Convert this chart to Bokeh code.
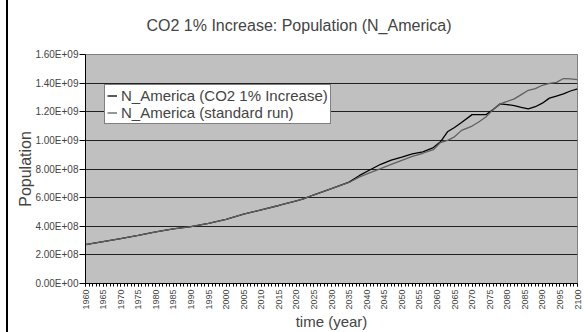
from bokeh.plotting import figure
from bokeh.models import (FixedTicker, CustomJSTickFormatter, Legend, LegendItem,
                          Range1d, Title)
from bokeh.embed import file_html
from bokeh.resources import INLINE
import math

years = [1960, 1965, 1970, 1975, 1980, 1985, 1990, 1995, 2000, 2005, 2010, 2015,
         2020, 2022, 2025, 2030, 2035, 2038, 2041, 2044, 2047, 2050, 2053, 2056,
         2059, 2061, 2063, 2065, 2067, 2070, 2072, 2074, 2076, 2078, 2080, 2082,
         2084, 2086, 2088, 2090, 2092, 2094, 2096, 2098, 2100]

co2_increase = [2.71e8, 2.92e8, 3.13e8, 3.36e8, 3.60e8, 3.82e8, 3.97e8, 4.20e8, 4.48e8,
                4.85e8, 5.15e8, 5.45e8, 5.78e8, 5.91e8, 6.20e8, 6.63e8, 7.08e8, 7.55e8,
                7.95e8, 8.33e8, 8.62e8, 8.83e8, 9.05e8, 9.20e8, 9.50e8, 9.90e8, 1.06e9,
                1.09e9, 1.125e9, 1.18e9, 1.18e9, 1.18e9, 1.215e9, 1.255e9, 1.25e9,
                1.243e9, 1.23e9, 1.22e9, 1.235e9, 1.26e9, 1.295e9, 1.31e9, 1.325e9,
                1.345e9, 1.36e9]

standard_run = [2.71e8, 2.92e8, 3.13e8, 3.36e8, 3.60e8, 3.82e8, 3.97e8, 4.20e8, 4.48e8,
                4.85e8, 5.15e8, 5.45e8, 5.78e8, 5.91e8, 6.20e8, 6.63e8, 7.06e8, 7.45e8,
                7.75e8, 8.03e8, 8.32e8, 8.60e8, 8.88e8, 9.10e8, 9.35e8, 9.85e8, 1.00e9,
                1.025e9, 1.07e9, 1.10e9, 1.13e9, 1.165e9, 1.215e9, 1.255e9, 1.272e9,
                1.29e9, 1.32e9, 1.35e9, 1.362e9, 1.385e9, 1.398e9, 1.405e9, 1.432e9,
                1.43e9, 1.424e9]

y_ticks = [0, 2e8, 4e8, 6e8, 8e8, 1.0e9, 1.2e9, 1.4e9, 1.6e9]
x_ticks = list(range(1960, 2101, 5))
x_minor = list(range(1960, 2101, 1))

FONT = "Liberation Sans"

p = figure(width=587, height=332, output_backend="svg", toolbar_location=None,
           x_range=Range1d(1960, 2100), y_range=Range1d(0, 1.6e9),
           min_border_left=85, min_border_right=10, min_border_top=54,
           min_border_bottom=48)

p.background_fill_color = "#c0c0c0"
p.border_fill_alpha = 0
p.styles = {"background": "linear-gradient(to right, white 0px, white 6px, black 6px, black 8px, white 8px)"}
p.outline_line_color = "#808080"
p.outline_line_width = 1

p.title.text = "CO2 1% Increase: Population (N_America)"
p.title.text_font = FONT
p.title.text_font_size = "16px"
p.title.text_font_style = "normal"
p.title.align = "left"
p.title.offset = 61
p.title.standoff = 4

# spacer between title and plot area
spacer = Title(text=" ", text_font_size="1px", standoff=16)
p.add_layout(spacer, "above")

# grid
p.xgrid.visible = False
p.ygrid.ticker = FixedTicker(ticks=y_ticks[1:-1])
p.ygrid.grid_line_color = "#202020"
p.ygrid.grid_line_width = 1

# y axis
p.yaxis.ticker = FixedTicker(ticks=y_ticks)
p.yaxis.formatter = CustomJSTickFormatter(code="""
    var s = tick.toExponential(2).toUpperCase();
    return s.replace(/E([+-])(\\d)$/, 'E$10$2');
""")
p.yaxis.major_label_text_font = FONT
p.yaxis.major_label_text_font_size = "10px"
p.yaxis.major_tick_out = 6
p.yaxis.major_tick_in = 0
p.yaxis.minor_tick_line_color = None
p.yaxis.axis_line_color = "black"
p.yaxis.axis_label = "Population"
p.yaxis.axis_label_text_font = FONT
p.yaxis.axis_label_text_font_size = "16px"
p.yaxis.axis_label_text_font_style = "normal"
p.yaxis.axis_label_standoff = -2
p.yaxis.major_label_standoff = 1

# x axis
p.xaxis.ticker = FixedTicker(ticks=x_ticks, minor_ticks=x_minor)
p.xaxis.major_label_orientation = math.pi / 2
p.xaxis.major_label_text_font = FONT
p.xaxis.major_label_text_font_size = "9px"
p.xaxis.major_tick_out = 3
p.xaxis.major_tick_in = 0
p.xaxis.minor_tick_out = 3
p.xaxis.minor_tick_in = 0
p.xaxis.axis_line_color = "black"
p.xaxis.axis_label = "time (year)"
p.xaxis.axis_label_text_font = FONT
p.xaxis.axis_label_text_font_size = "15px"
p.xaxis.axis_label_text_font_style = "normal"
p.xaxis.axis_label_standoff = 0
p.xaxis.major_label_standoff = 3

r1 = p.line(years, co2_increase, line_color="black", line_width=1.3)
r2 = p.line(years, standard_run, line_color="#606060", line_width=1.3)

legend = Legend(items=[LegendItem(label="N_America (CO2 1% Increase)", renderers=[r1]),
                       LegendItem(label="N_America (standard run)", renderers=[r2])],
                location=(19, 159))
legend.label_text_font = FONT
legend.label_text_font_size = "15px"
legend.border_line_color = "black"
legend.border_line_width = 1
legend.background_fill_color = "white"
legend.background_fill_alpha = 1
legend.padding = 2
legend.spacing = 0
legend.margin = 0
legend.glyph_width = 10
legend.glyph_height = 17
legend.label_height = 17
legend.label_standoff = 4
p.add_layout(legend, "center")

open("out.html", "w").write(file_html(p, INLINE))
